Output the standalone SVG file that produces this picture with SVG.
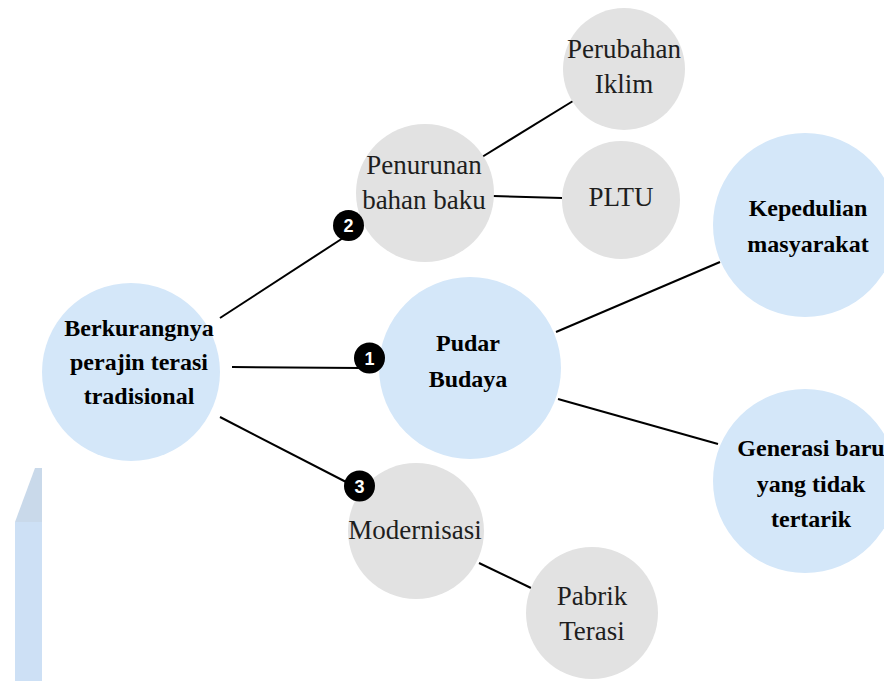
<svg xmlns="http://www.w3.org/2000/svg" width="884" height="681" viewBox="0 0 884 681">
<style>
.blue{fill:#d4e7f9}
.gray{fill:#e2e2e2}
.b{font-family:'Liberation Serif','Times New Roman',Tinos,'DejaVu Serif',serif;font-size:24px;font-weight:bold;fill:#000;text-anchor:middle}
.r{font-family:'Liberation Serif','Times New Roman',Tinos,'DejaVu Serif',serif;font-size:27px;fill:#1e1e1e;text-anchor:middle}
.ln{stroke:#000;stroke-width:2;fill:none}
.badge{fill:#000}
.bt{font-family:'Liberation Sans',Arial,sans-serif;font-size:18px;font-weight:bold;fill:#fff;text-anchor:middle}
</style>
<rect width="884" height="681" fill="#fff"/>
<polygon points="15,522 35,468 42,468 42,522" fill="#c9d9ea"/>
<rect x="15" y="522" width="27" height="159" fill="#cde0f5"/>
<g id="connectors">
<line class="ln" x1="220" y1="318" x2="343" y2="238"/>
<line class="ln" x1="232" y1="367" x2="360" y2="368"/>
<line class="ln" x1="220" y1="417" x2="350" y2="484"/>
<line class="ln" x1="482" y1="157" x2="573" y2="101"/>
<line class="ln" x1="493" y1="196" x2="562" y2="198"/>
<line class="ln" x1="556" y1="332" x2="720" y2="262"/>
<line class="ln" x1="558" y1="399" x2="718" y2="444"/>
<line class="ln" x1="479" y1="563" x2="531" y2="588"/>
</g>
<g id="n-berkurang">
<circle class="blue" cx="131" cy="372" r="89"/>
<text class="b" x="139" y="336">Berkurangnya</text>
<text class="b" x="139" y="370">perajin terasi</text>
<text class="b" x="139" y="404">tradisional</text>
</g>
<g id="n-pudar">
<circle class="blue" cx="470" cy="368" r="91"/>
<text class="b" x="468" y="351">Pudar</text>
<text class="b" x="468" y="387">Budaya</text>
</g>
<g id="n-kepedulian">
<circle class="blue" cx="805" cy="225" r="92"/>
<text class="b" x="808" y="216">Kepedulian</text>
<text class="b" x="808" y="252">masyarakat</text>
</g>
<g id="n-generasi">
<circle class="blue" cx="805" cy="481" r="92"/>
<text class="b" x="811" y="456">Generasi baru</text>
<text class="b" x="811" y="492">yang tidak</text>
<text class="b" x="811" y="527">tertarik</text>
</g>
<g id="n-penurunan">
<circle class="gray" cx="425" cy="193" r="69"/>
<text class="r" x="424" y="174">Penurunan</text>
<text class="r" x="424" y="209">bahan baku</text>
</g>
<g id="n-perubahan">
<circle class="gray" cx="624" cy="69" r="61"/>
<text class="r" x="624" y="58">Perubahan</text>
<text class="r" x="624" y="93">Iklim</text>
</g>
<g id="n-pltu">
<circle class="gray" cx="621" cy="200" r="59"/>
<text class="r" x="621" y="206">PLTU</text>
</g>
<g id="n-modernisasi">
<circle class="gray" cx="416" cy="531" r="68"/>
<text class="r" x="415" y="539">Modernisasi</text>
</g>
<g id="n-pabrik">
<circle class="gray" cx="592" cy="613" r="66"/>
<text class="r" x="592" y="605">Pabrik</text>
<text class="r" x="592" y="640">Terasi</text>
</g>
<g id="badge-1">
<circle class="badge" cx="369.5" cy="358" r="15.5"/>
<text class="bt" x="369.5" y="364.5">1</text>
</g>
<g id="badge-2">
<circle class="badge" cx="348.5" cy="225.5" r="15.5"/>
<text class="bt" x="348.5" y="232">2</text>
</g>
<g id="badge-3">
<circle class="badge" cx="359.5" cy="486" r="15.5"/>
<text class="bt" x="359.5" y="492.5">3</text>
</g>
</svg>
